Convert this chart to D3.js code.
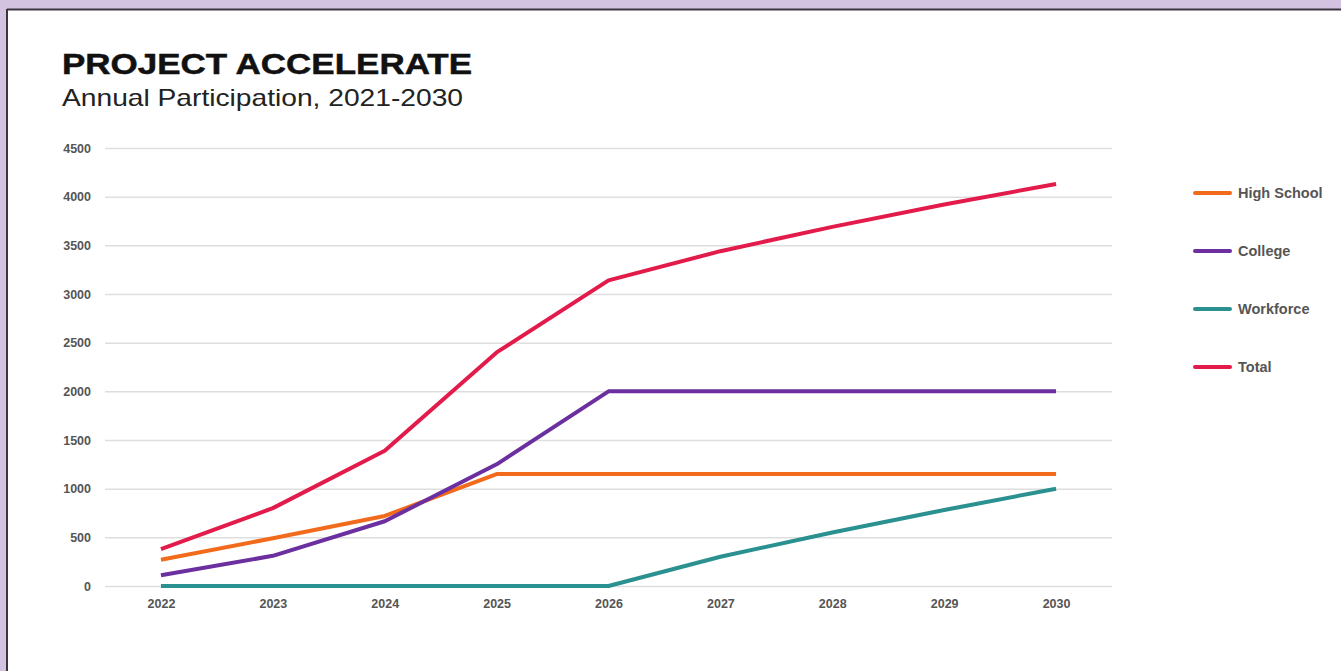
<!DOCTYPE html>
<html><head><meta charset="utf-8">
<script src="https://cdn.jsdelivr.net/npm/d3@7"></script>
<style>
html,body{margin:0;padding:0;background:#d3c3e0;}
svg{display:block;}
</style></head>
<body>
<svg id="chart" width="1341" height="671"></svg>
<script>
const years = ["2022","2023","2024","2025","2026","2027","2028","2029","2030"];
const highSchool = [270, 490, 720, 1150, 1150, 1150, 1150, 1150, 1150];
const college = [110, 310, 665, 1250, 2000, 2000, 2000, 2000, 2000];
const workforce = [0, 0, 0, 0, 0, 300, 550, 780, 1000];
const total = [380, 800, 1390, 2400, 3140, 3440, 3690, 3920, 4130];
const yTicks = [0, 500, 1000, 1500, 2000, 2500, 3000, 3500, 4000, 4500];
const seriesNames = ["High School", "College", "Workforce", "Total"];
const seriesColors = ["#f26b1d", "#6b2fa0", "#2b9090", "#e31b4a"];

const series = [highSchool, college, workforce, total].map((v, i) => ({name: seriesNames[i], color: seriesColors[i], values: v}));

const svg = d3.select("#chart");
// panel
svg.append("rect").attr("x", 8).attr("y", 10).attr("width", 1341).attr("height", 671).attr("fill", "#ffffff");
svg.append("line").attr("x1", 7).attr("x2", 1341).attr("y1", 9.5).attr("y2", 9.5).attr("stroke", "#3a3540").attr("stroke-width", 2);
svg.append("line").attr("x1", 7).attr("x2", 7).attr("y1", 9).attr("y2", 671).attr("stroke", "#3a3540").attr("stroke-width", 2);

svg.append("text").attr("x", 62).attr("y", 74).text("PROJECT ACCELERATE")
  .attr("font-family", "Liberation Sans, Arial, sans-serif").attr("font-weight", "900").attr("font-size", 30)
  .attr("fill", "#111").attr("stroke", "#111").attr("stroke-width", 0.5)
  .attr("textLength", 410).attr("lengthAdjust", "spacingAndGlyphs");
svg.append("text").attr("x", 62).attr("y", 106).text("Annual Participation, 2021-2030")
  .attr("font-family", "Liberation Sans, Arial, sans-serif").attr("font-size", 24)
  .attr("fill", "#222").attr("textLength", 401).attr("lengthAdjust", "spacingAndGlyphs");

const x = d3.scalePoint().domain(years).range([105, 1112]).padding(0.5);
const y = d3.scaleLinear().domain([0, 4500]).range([586, 148]);

// grid
const yAxis = d3.axisLeft(y).tickValues(yTicks).tickFormat(d3.format("d")).tickSize(0).tickPadding(14);
const gy = svg.append("g").attr("transform", "translate(105,0)").call(yAxis);
gy.select(".domain").remove();
gy.selectAll(".tick line").attr("x2", 1112 - 105).attr("stroke", "#dedede").attr("stroke-width", 1.5);
gy.selectAll(".tick text").attr("font-family", "Liberation Sans, Arial, sans-serif").attr("font-weight", "bold")
  .attr("font-size", 12.5).attr("fill", "#555");

const xAxis = d3.axisBottom(x).tickSize(0).tickPadding(13);
const gx = svg.append("g").attr("transform", "translate(0,586)").call(xAxis);
gx.select(".domain").remove();
gx.selectAll(".tick text").attr("font-family", "Liberation Sans, Arial, sans-serif").attr("font-weight", "bold")
  .attr("font-size", 12.5).attr("fill", "#555");

const line = d3.line().x((d, i) => x(years[i])).y(d => y(d));
svg.append("g").selectAll("path").data(series).join("path")
  .attr("d", d => line(d.values)).attr("fill", "none").attr("stroke", d => d.color)
  .attr("stroke-width", 4).attr("stroke-linejoin", "round");

// legend
const lg = svg.append("g").selectAll("g").data(series).join("g")
  .attr("transform", (d, i) => `translate(1195,${193 + i * 58})`);
lg.append("line").attr("x1", 0).attr("x2", 35).attr("stroke", d => d.color).attr("stroke-width", 4).attr("stroke-linecap", "round");
lg.append("text").attr("x", 43).attr("dy", "0.35em").text(d => d.name)
  .attr("font-family", "Liberation Sans, Arial, sans-serif").attr("font-weight", "bold")
  .attr("font-size", 14.5).attr("fill", "#555");
</script>
</body></html>
